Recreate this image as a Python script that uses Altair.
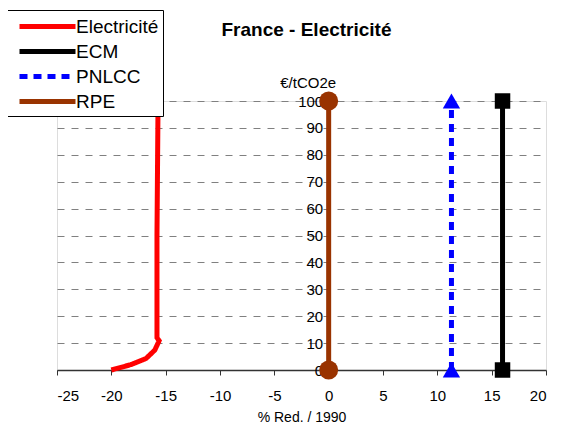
import altair as alt
import pandas as pd

series = ["Electricité", "ECM", "PNLCC", "RPE"]
colors = ["#FF0000", "#000000", "#0000FF", "#993300"]

elec_x = [-20.0, -18.2, -16.8, -16.0, -15.6, -15.8, -15.8, -15.7]
elec_y = [0, 2.0, 4.3, 7.4, 10.9, 12.0, 50, 100]
ecm_x = [16.0, 16.0]
ecm_y = [0, 100]
pnlcc_x = [11.3, 11.3]
pnlcc_y = [0, 100]
rpe_x = [0.0, 0.0]
rpe_y = [0, 100]

x_ticks = list(range(-25, 21, 5))
y_ticks = list(range(0, 101, 10))

rows = []
for name, xs, ys in [("Electricité", elec_x, elec_y), ("ECM", ecm_x, ecm_y),
                     ("PNLCC", pnlcc_x, pnlcc_y), ("RPE", rpe_x, rpe_y)]:
    for i, (xv, yv) in enumerate(zip(xs, ys)):
        rows.append({"series": name, "x": xv, "y": yv, "idx": i})
df = pd.DataFrame(rows)

font = "Liberation Sans"
W, H = 489, 269
x0_px = (0 - (-25)) / 45 * W

x_enc = alt.X("x:Q", scale=alt.Scale(domain=[-25, 20], nice=False, zero=False),
              axis=alt.Axis(values=x_ticks, title="% Red. / 1990", grid=False,
                            labelExpr="'' + datum.value",
                            domainColor="#333333", domainWidth=1.5, tickColor="#333333",
                            tickSize=5, labelPadding=13, labelFontSize=15, titleFontSize=14,
                            titleFontWeight="normal", titlePadding=7, labelColor="#000000",
                            titleColor="#000000", labelFont=font, titleFont=font))
y_enc = alt.Y("y:Q", scale=alt.Scale(domain=[0, 100], nice=False),
              axis=alt.Axis(values=y_ticks, title="€/tCO2e", offset=-x0_px, grid=True,
                            labelOverlap=False,
                            gridDash=[7, 7], gridColor="#808080", gridWidth=1,
                            domainColor="#808080", tickColor="#808080", tickSize=4,
                            labelPadding=2, labelFontSize=15, titleFontSize=15,
                            titleFontWeight="normal", titleAngle=0, titleX=-21, titleY=-19,
                            titleAlign="center", titleBaseline="middle", labelColor="#000000",
                            titleColor="#000000", labelFont=font, titleFont=font))

leg = dict(title=None, orient="none", legendX=-50, legendY=-91,
           symbolType="M-2.8,0H2.8", symbolSize=400, symbolOffset=24,
           symbolStrokeWidth=4.5, labelFontSize=19, labelFont=font,
           labelColor="#000000", fillColor="#FFFFFF", strokeColor="#000000", padding=4,
           rowPadding=2, labelOffset=16, cornerRadius=0)

base = alt.Chart(df)

lines = base.mark_line(clip=False).encode(
    x=x_enc,
    y=y_enc,
    color=alt.Color("series:N", scale=alt.Scale(domain=series, range=colors),
                    legend=alt.Legend(**leg)),
    strokeDash=alt.StrokeDash("series:N",
                              scale=alt.Scale(domain=series, range=[[1, 0], [1, 0], [8, 6], [1, 0]]),
                              legend=alt.Legend(**leg)),
    strokeWidth=alt.StrokeWidth("series:N", scale=alt.Scale(domain=series, range=[5, 5, 4.5, 2.5]),
                                legend=None),
    order=alt.Order("idx:Q"),
)

marker_specs = [("ECM", "square", 240, "#000000"),
                ("PNLCC", "triangle-up", 300, "#0000FF"),
                ("RPE", "circle", 361, "#993300")]
point_layers = []
for name, shp, sz, col in marker_specs:
    point_layers.append(
        base.transform_filter(alt.datum.series == name).mark_point(
            filled=True, opacity=1, strokeWidth=0, clip=False, shape=shp, size=sz, fill=col
        ).encode(x=x_enc, y=y_enc)
    )

chart = alt.layer(lines, *point_layers).properties(
    width=W, height=H,
    autosize=alt.AutoSizeParams(type="none"),
    padding={"left": 49, "top": 93, "right": 28, "bottom": 66},
    title=alt.TitleParams("France - Electricité", fontSize=19, fontWeight="bold", font=font,
                          anchor="middle", offset=-30, dx=5, color="#000000"),
).configure_view(
    stroke="#808080", strokeWidth=1
).configure(font=font)

chart.save("out.html", embed_options={"renderer": "svg", "actions": False})
